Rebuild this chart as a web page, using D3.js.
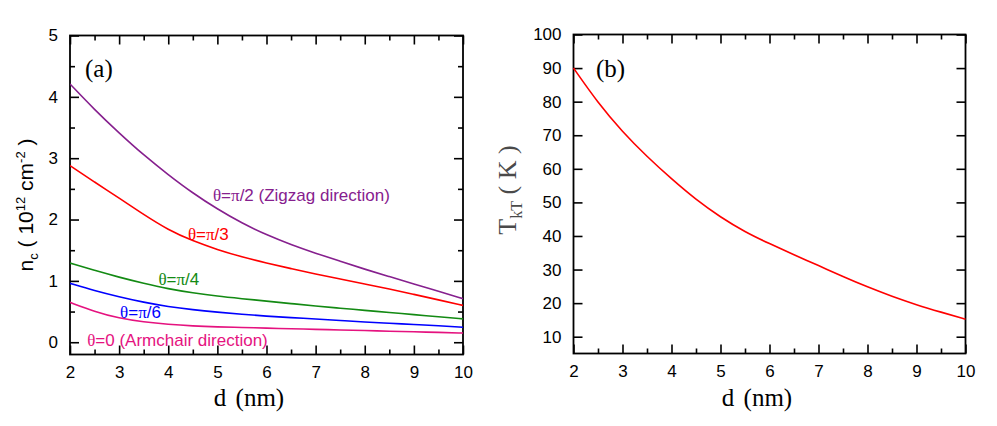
<!DOCTYPE html>
<html>
<head>
<meta charset="utf-8">
<script src="https://cdn.jsdelivr.net/npm/d3@7/dist/d3.min.js"></script>
<style>
  body { margin: 0; background: #fff; }
  svg { display: block; }
  .tick text { font-family: Arial, "Liberation Sans", sans-serif; font-size: 17px; fill: #000; }
</style>
</head>
<body>
<svg id="chart" width="997" height="426"></svg>
<script>
// ---------- data ----------
const dValues = [2, 2.5, 3, 3.5, 4, 4.5, 5, 5.5, 6, 6.5, 7, 7.5, 8, 8.5, 9, 9.5, 10];

// panel (a): n_c (10^12 cm^-2)
const ncZigzag   = [4.21, 3.79, 3.41, 3.05, 2.73, 2.43, 2.17, 1.94, 1.75, 1.59, 1.45, 1.32, 1.19, 1.07, 0.95, 0.83, 0.71];
const ncPi3      = [2.88, 2.61, 2.35, 2.08, 1.83, 1.65, 1.51, 1.39, 1.29, 1.20, 1.11, 1.03, 0.95, 0.87, 0.78, 0.69, 0.60];
const ncPi4      = [1.29, 1.17, 1.06, 0.96, 0.87, 0.805, 0.75, 0.71, 0.67, 0.63, 0.59, 0.555, 0.52, 0.485, 0.45, 0.415, 0.38];
const ncPi6      = [0.96, 0.84, 0.74, 0.65, 0.58, 0.53, 0.49, 0.455, 0.425, 0.40, 0.38, 0.355, 0.33, 0.31, 0.29, 0.27, 0.245];
const ncArmchair = [0.65, 0.50, 0.39, 0.33, 0.29, 0.265, 0.25, 0.24, 0.23, 0.22, 0.21, 0.20, 0.19, 0.18, 0.17, 0.16, 0.15];

// panel (b): T_kT (K)
const tKT = [90, 79.6, 71.0, 63.6, 57.0, 50.8, 45.6, 41.2, 37.7, 34.4, 31.2, 27.9, 24.8, 22.0, 19.5, 17.3, 15.2];

// series names / labels
const seriesA = [
  { name: "θ=π/2", note: " (Zigzag direction)", values: ncZigzag },
  { name: "θ=π/3", note: "", values: ncPi3 },
  { name: "θ=π/4", note: "", values: ncPi4 },
  { name: "θ=π/6", note: "", values: ncPi6 },
  { name: "θ=0",   note: " (Armchair direction)", values: ncArmchair }
];

// tick labels
const xTicks = [2, 3, 4, 5, 6, 7, 8, 9, 10];
const xMinor = [2.5, 3.5, 4.5, 5.5, 6.5, 7.5, 8.5, 9.5];
const yTicksA = [0, 1, 2, 3, 4, 5];
const yMinorA = [0.5, 1.5, 2.5, 3.5, 4.5];
const yTicksB = [10, 20, 30, 40, 50, 60, 70, 80, 90, 100];

// ---------- styling / layout (kept separate from data) ----------
const colorsA = ["#86208E", "#FF0000", "#138A13", "#0000FF", "#E5127F"];
// label anchors in data coordinates [d, n_c] (baseline start)
const labelAnchorsA = [[4.91, 2.31], [4.40, 1.67], [3.80, 0.93], [3.02, 0.39], [2.35, -0.06]];

const svg = d3.select("#chart");
const serif = "'Liberation Serif', 'Times New Roman', serif";
const sans = "Arial, 'Liberation Sans', sans-serif";

function panel(left, right, top, bottom, yDomain, yTicks, yMinor) {
  const x = d3.scaleLinear().domain([2, 10]).range([left, right]);
  const y = d3.scaleLinear().domain(yDomain).range([bottom, top]);
  const g = svg.append("g");
  const H = bottom - top, W = right - left;

  g.append("g").attr("transform", `translate(0,${bottom})`)
    .call(d3.axisBottom(x).tickValues(xTicks).tickSize(-9).tickPadding(11).tickFormat(d3.format("d")))
    .call(a => a.select(".domain").remove());
  g.append("g").attr("transform", `translate(0,${bottom})`)
    .call(d3.axisBottom(x).tickValues(xMinor).tickSize(-5).tickFormat(""))
    .call(a => a.select(".domain").remove());
  g.append("g").attr("transform", `translate(0,${top})`)
    .call(d3.axisTop(x).tickValues(xTicks).tickSize(-9).tickFormat(""))
    .call(a => a.select(".domain").remove());
  g.append("g").attr("transform", `translate(0,${top})`)
    .call(d3.axisTop(x).tickValues(xMinor).tickSize(-5).tickFormat(""))
    .call(a => a.select(".domain").remove());
  g.append("g").attr("transform", `translate(${left},0)`)
    .call(d3.axisLeft(y).tickValues(yTicks).tickSize(-9).tickPadding(12).tickFormat(d3.format("d")))
    .call(a => a.select(".domain").remove());
  g.append("g").attr("transform", `translate(${right},0)`)
    .call(d3.axisRight(y).tickValues(yTicks).tickSize(-9).tickFormat(""))
    .call(a => a.select(".domain").remove());
  if (yMinor) {
    g.append("g").attr("transform", `translate(${left},0)`)
      .call(d3.axisLeft(y).tickValues(yMinor).tickSize(-5).tickFormat(""))
      .call(a => a.select(".domain").remove());
    g.append("g").attr("transform", `translate(${right},0)`)
      .call(d3.axisRight(y).tickValues(yMinor).tickSize(-5).tickFormat(""))
      .call(a => a.select(".domain").remove());
  }
  g.selectAll(".tick line").attr("stroke", "#000").attr("stroke-width", 1.6);

  g.append("rect").attr("x", left).attr("y", top).attr("width", W).attr("height", H)
    .attr("fill", "none").attr("stroke", "#000").attr("stroke-width", 1.8);

  return { x, y, g };
}

// ---------- panel (a) ----------
const A = panel(70, 463, 35.5, 354.5, [-0.2, 5], yTicksA, yMinorA);
const lineA = vals => d3.line().x((d, i) => A.x(dValues[i])).y(d => A.y(d)).curve(d3.curveBasis)(vals);
svg.append("clipPath").attr("id", "clipA").append("rect")
  .attr("x", 70).attr("y", 35.5).attr("width", 393).attr("height", 319);
seriesA.forEach((s, k) => {
  A.g.append("path").attr("d", lineA(s.values)).attr("fill", "none")
    .attr("stroke", colorsA[k]).attr("stroke-width", 1.6).attr("clip-path", "url(#clipA)");
  const [lx, ly] = labelAnchorsA[k];
  const t = A.g.append("text").attr("x", A.x(lx)).attr("y", A.y(ly))
    .attr("fill", colorsA[k]).style("font-family", sans).style("font-size", "17px");
  const parts = s.name.match(/^(θ)(=)(π?)(.*)$/);
  t.append("tspan").style("font-family", serif).text(parts[1]);
  t.append("tspan").text(parts[2]);
  if (parts[3]) t.append("tspan").style("font-family", serif).text(parts[3]);
  t.append("tspan").text(parts[4] + s.note);
});
A.g.append("text").attr("x", 85).attr("y", 77).style("font-family", serif).style("font-size", "25px").text("(a)");
A.g.append("text").attr("x", 249).attr("y", 406).attr("text-anchor", "middle")
  .style("font-family", serif).style("font-size", "25px").style("word-spacing", "3px").text("d (nm)");
const yl = A.g.append("text").attr("transform", "translate(33,205) rotate(-90)").attr("text-anchor", "middle")
  .style("font-family", sans).style("font-size", "21px").attr("fill", "#000");
yl.append("tspan").text("n");
yl.append("tspan").attr("dy", 5).style("font-size", "13px").text("c");
yl.append("tspan").attr("dy", -5).text(" ( 10");
yl.append("tspan").attr("dy", -8).style("font-size", "13px").text("12");
yl.append("tspan").attr("dy", 8).text(" cm");
yl.append("tspan").attr("dy", -8).style("font-size", "13px").text("-2");
yl.append("tspan").attr("dy", 8).text(" )");

// ---------- panel (b) ----------
const B = panel(573.5, 965.5, 34.5, 353.5, [5, 100], yTicksB, null);
const lineB = d3.line().x((d, i) => B.x(dValues[i])).y(d => B.y(d)).curve(d3.curveBasis);
B.g.append("path").attr("d", lineB(tKT)).attr("fill", "none").attr("stroke", "#FF0000").attr("stroke-width", 1.6);
B.g.append("text").attr("x", 596).attr("y", 77).style("font-family", serif).style("font-size", "25px").text("(b)");
B.g.append("text").attr("x", 757).attr("y", 406).attr("text-anchor", "middle")
  .style("font-family", serif).style("font-size", "25px").style("word-spacing", "3px").text("d (nm)");
const yl2 = B.g.append("text").attr("transform", "translate(516,190) rotate(-90)").attr("text-anchor", "middle")
  .style("font-family", serif).style("font-size", "26px").attr("fill", "#4a4a4a");
yl2.append("tspan").text("T");
yl2.append("tspan").attr("dy", 6).style("font-size", "16px").text("kT");
yl2.append("tspan").attr("dy", -6).text(" ( K )");
</script>
</body>
</html>
